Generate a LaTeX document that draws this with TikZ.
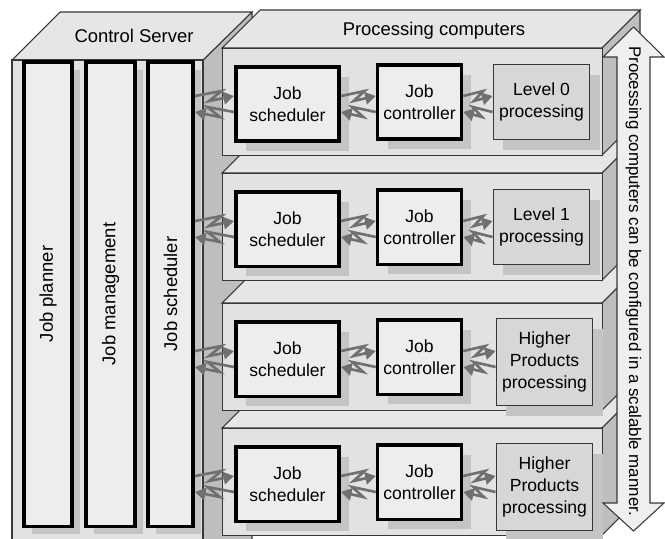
\documentclass[tikz,border=0pt]{standalone}
\usepackage{fontspec}
\setmainfont{Liberation Sans}
\usetikzlibrary{arrows.meta,calc,shadows}

\definecolor{facegray}{RGB}{226,226,226}
\definecolor{topgray}{RGB}{230,230,230}
\definecolor{sidegray}{RGB}{190,190,190}
\definecolor{boxgray}{RGB}{237,237,237}
\definecolor{procgray}{RGB}{215,215,215}
\definecolor{shadegray}{RGB}{196,196,196}
\definecolor{zzgray}{RGB}{112,112,112}
\definecolor{arrowgray}{RGB}{239,239,239}
\definecolor{edgegray}{RGB}{55,55,55}

\newlength{\pxu}
\setlength{\pxu}{0.02cm}

\tikzset{
  face/.style={draw=edgegray, line width=0.6pt, fill=facegray},
  topface/.style={face, fill=topgray},
  sideface/.style={face, fill=sidegray},
  rowface/.style={face, inner sep=0pt, minimum width=380\pxu, minimum height=107\pxu},
  boxshade/.style={drop shadow={shadow xshift=#1\pxu, shadow yshift=-#1\pxu, fill=shadegray, opacity=1}},
  jobbox/.style={draw=black, line width=2pt, fill=boxgray, align=center, boxshade=#1},
  jobbox/.default=10,
  colbox/.style={jobbox=8, font=\fontsize{10.5}{12}\selectfont},
  procbox/.style={draw=edgegray, line width=0.7pt, fill=procgray, align=center, boxshade=10},
  zz/.style={to path={-- ($(\tikztostart)!.68!(\tikztotarget)+(0,-5)$) -- ($(\tikztostart)!.36!(\tikztotarget)+(0,5)$) -- (\tikztotarget)}},
  zzarrow/.style={draw=zzgray, line width=1.5pt, line join=miter, -{Triangle[length=6pt,width=7pt]}},
  facelabel/.style={font=\fontsize{10.5}{12}\selectfont}
}

\begin{document}
\begin{tikzpicture}[x=0.02cm, y=-0.02cm, font=\fontsize{10}{12.3}\selectfont]
\useasboundingbox (0,0) rectangle (665,538);

% control server
\draw[sideface] (203,60) -- (252,12) -- (252,545) -- (203,545) -- cycle;
\draw[topface] (12,60) -- (60,12) -- (252,12) -- (203,60) -- cycle;
\draw[face] (12,60) rectangle (203,545);
\node[facelabel] (cslabel) at (134,36) {Control Server};
\node[colbox, minimum width=48.5\pxu, minimum height=464.5\pxu] (cplan) at (48,294) {\rotatebox{90}{Job planner}};
\node[colbox, minimum width=49.5\pxu, minimum height=464.5\pxu] (cmgmt) at (110.5,294) {\rotatebox{90}{Job management}};
\node[colbox, minimum width=45.5\pxu, minimum height=464.5\pxu] (csched) at (170.5,294) {\rotatebox{90}{Job scheduler}};

% processing computers, lowest row first
\foreach \i/\t/\pcx/\pcy/\pw/\ph/\plbl in {
    4/428/544.5/59/88/87/{Higher\\Products\\processing},
    3/303/544.5/59/88/87/{Higher\\Products\\processing},
    2/173/541.5/54/92/75/{Level 1\\processing},
    1/48/541.5/54/92/75/{Level 0\\processing}}{
  \draw[topface] (222,\t) -- (602,\t) -- (640,\t-38) -- (260,\t-38) -- cycle;
  \draw[sideface] (602,\t) -- (640,\t-38) -- (640,\t+69) -- (602,\t+107) -- cycle;
  \node[rowface, anchor=north west] (row\i) at (222,\t) {};
  \node[jobbox, minimum width=103.5\pxu, minimum height=74.5\pxu] (s\i) at (287.5,\t+56) {Job\\scheduler};
  \node[jobbox, minimum width=81.5\pxu, minimum height=74.5\pxu] (c\i) at (419.5,\t+54) {Job\\controller};
  \node[procbox, minimum width=\pw\pxu, minimum height=\ph\pxu] (p\i) at (\pcx,\t+\pcy) {\plbl};
  \foreach \a/\b in {csched.east/s\i.west, s\i.east/c\i.west, c\i.east/p\i.west}{
    \draw[zzarrow] ($(\a |- s\i.center)+(0,-8)$) to[zz] ($(\b |- s\i.center)+(0,-8)$);
    \draw[zzarrow] ($(\b |- s\i.center)+(0,8)$) to[zz] ($(\a |- s\i.center)+(0,8)$);
  }
}
\node[facelabel] (pclabel) at (434,31) {Processing computers};

% scaling arrow
\draw[draw=edgegray, line width=0.6pt, fill=arrowgray] (617,57) -- (603,57) -- (633.5,27) -- (664,57) -- (650,57) -- (650,503) -- (664,503) -- (633.5,531) -- (603,503) -- (617,503) -- cycle;
\node[rotate=-90, font=\fontsize{9.6}{11}\selectfont] (scalenote) at (633.5,281) {Processing computers can be configured in a scalable manner.};
\end{tikzpicture}
\end{document}
